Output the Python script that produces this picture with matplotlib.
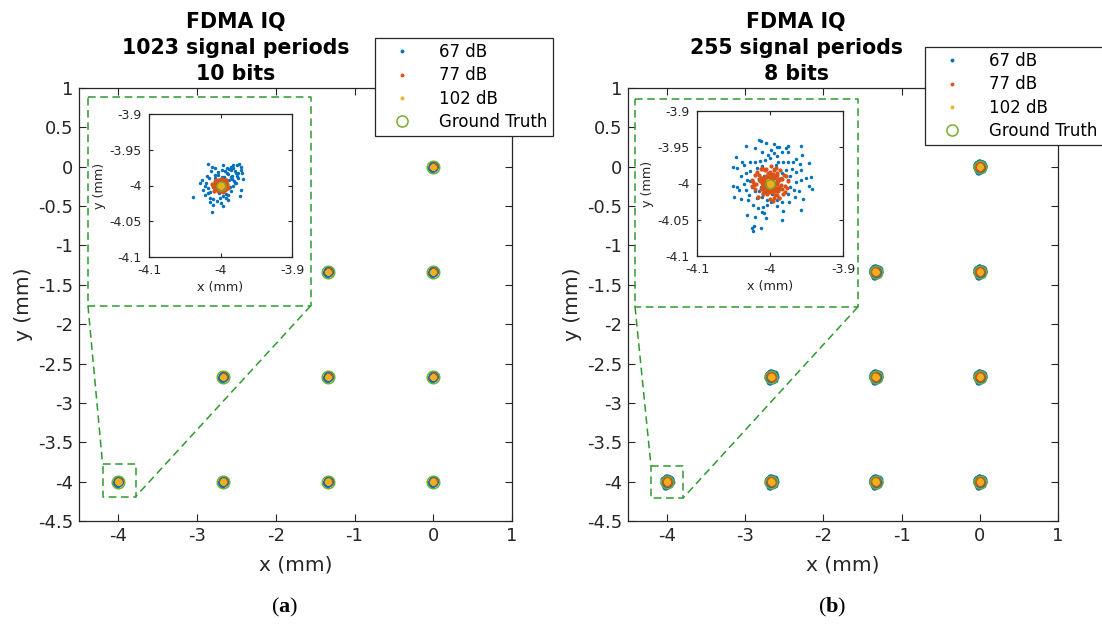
import numpy as np
import matplotlib
matplotlib.use('Agg')
import matplotlib.pyplot as plt
from matplotlib.lines import Line2D

plt.rcParams['font.family'] = 'DejaVu Sans'
plt.rcParams['axes.unicode_minus'] = False
plt.rcParams['mathtext.fontset'] = 'custom'
plt.rcParams['mathtext.rm'] = 'Liberation Serif'
plt.rcParams['mathtext.bf'] = 'Liberation Serif:bold'

# ground truth positions (mm)
gt_x = [0, -1.3333, 0, -2.6667, -1.3333, 0, -4, -2.6667, -1.3333, 0]
gt_y = [0, -1.3333, -1.3333, -2.6667, -2.6667, -2.6667, -4, -4, -4, -4]

# (a) 1023 periods / 10 bits : estimated offsets around each target (um)
a67_dx = [-39, -17, -12, 4, 0, -5, 27, 28, 32, 29,
          28, 18, 23, 14, 9, 2, -7, -12, -26, -29,
          -24, -21, -14, -10, -15, 16, 23, 21, 18, 14,
          11, 7, 25, 9, -3, -19, -20, -17, -8, 5,
          12, 20, -2, -6, 3, 8, -11, -16, 15, 22,
          10, -4, 6, -9, 1, 13, 19, -13, -22, 17,
          26, 11, -1, 7, -7, 4, 24, 30, -18, -10,
          2, 9, 14, -5, 20, 16, -3, 6, -14, 12]
a67_dy = [-16, 30, -37, -29, -24, -22, -14, -6, 9, 22,
          26, 29, 28, 26, 25, 22, 25, 26, 8, 4,
          -6, -13, -17, -27, -23, 13, 13, 4, -1, -8,
          -13, -17, 18, 18, 15, 13, 4, -3, 10, 12,
          8, 20, -10, 5, -15, -5, -2, 10, 22, 17,
          16, 19, 3, -8, 7, -2, 6, 20, 0, 24,
          30, -20, -18, -12, 15, 28, 10, 17, -10, -19,
          12, 2, 12, 0, 4, 9, -6, 20, -9, 23]
a77_dx = [3, -4, 6, -7, 1, 8, -2, -9, 5, 0,
          -5, 7, 2, -3, 9, -8, 4, -1, 6, -6,
          2, -4, 8, -2, 5, -7, 0, 3, -5, 7,
          -1, 4, -8, 6, 1, -3, 9, -6, 2, -2,
          1, -2, 3, -3, 4, -4, 0, 2, -1, 5,
          -5, 3, -2, 1, 6, -6, 0, 4, -3, 2,
          -1, 3, -4, 5, -2, 0, 2, -5, 1, -3,
          4, -1, 6, -4, 3, -6, 0, -2, 5, 1,
          -11, -12, -10, 10, -9, 8]
a77_dy = [5, 2, -3, 6, -6, 1, 8, -2, 4, -7,
          -5, 6, 9, -4, -1, 4, -8, 3, -5, 7,
          1, -8, 5, 7, -2, -5, 3, -9, 2, 8,
          -3, 6, -1, -6, 9, 4, 2, -4, -7, 0,
          2, -1, 0, 3, -2, 4, -4, -3, 5, 1,
          3, -5, -6, 2, 0, -2, 6, 4, -1, -4,
          1, 3, -3, -1, 6, -6, -2, 2, -5, 4,
          5, -4, 3, 0, -6, -1, 1, -3, -2, 6,
          -1, 2, 1, -3, -8, 7]
a102_dx = [1, -1, 2, -2, 0, 1, -1, 2, 0, -2, 1, 0, -1, 2, -1]
a102_dy = [0, 1, -1, 2, -2, 2, -1, 1, 1, -1, -2, 0, 2, 0, 0]

# (b) 255 periods / 8 bits
b67_dx = [-15, -13, -5, 6, 10, 13, 24, 42, -33, -21,
          -46, -38, -27, -21, -14, -7, -3, 9, 16, 25,
          18, 24, 11, 36, 44, 31, 41, 53, -11, 1,
          5, 22, -51, -45, -33, -27, -18, -11, -40, -31,
          -27, -36, -51, -45, -43, -33, -49, -40, -29, -21,
          -15, -11, -4, 1, 10, 17, 26, 34, 40, 33,
          28, 36, 43, 49, 56, 58, 53, 28, 35, 43,
          22, 17, 24, -30, -23, -17, -9, -4, 10, -11,
          -20, -32, -6, 17, 42, -24, -22, -13, -23, -8,
          5, -15, 12, -5, 20, -20, 8, -2, 15, -12,
          30, -25, 3, -18, 25, 0, -35, 45, -8, 18]
b67_dy = [60, 59, 56, 54, 50, 51, 52, 52, 52, 49,
          37, 30, 30, 30, 31, 33, 40, 38, 43, 43,
          30, 30, 30, 34, 39, 29, 27, 28, 44, 46,
          42, 49, 23, 21, 15, 17, 21, 24, 10, 5,
          3, 0, -3, -5, -9, -9, -18, -22, -16, -11,
          -11, -18, -23, -25, -23, -25, -25, -18, -11, -9,
          -5, 2, 5, 7, 9, -7, -4, 11, 16, 18,
          18, 14, 5, -23, -30, -34, -33, -30, -31, -39,
          -46, -43, -47, -50, -37, -62, -59, -62, -65, 10,
          20, 5, -8, -12, -12, 12, 25, 15, 8, -5,
          20, -5, -15, -20, -15, 35, 25, -22, -40, -38]
b77_dx = [-25, -20, -15, -10, -5, 0, 5, 10, 15, 20,
          22, -22, 18, -18, 12, -12, 8, -8, 3, -3,
          -24, 24, -16, 16, -6, 6, -13, 13, -2, 2,
          7, -7, 19, -19, 11, -11, 4, -4, 14, -14,
          -21, 21, -9, 9, 1, -1, 17, -17, 6, -6,
          23, -23, 10, -10, -4, 4, 15, -15, 0, 8,
          0, 3, -3, 6, -6, 9, -9, 12, -12, 2,
          -2, 5, -5, 8, -8, 11, -11, 1, -1, 4,
          -4, 7, -7, 10, -10, 13, -13, 0, 3, -3,
          6, -6, 9, -9, 2, -2, 5, -5, 8, -8,
          1, -1, 4, -4, 7, -7, 0, 11, -11, 3,
          -3, 6, -6, 2, -2, 10, -10, 5, -5, 0]
b77_dy = [5, -8, 12, -15, 20, -22, 18, -10, 6, -3,
          10, -2, -14, 16, -20, 8, 22, -6, -12, 14,
          -4, 4, -18, -8, 2, 10, 20, -20, -5, 6,
          -16, 18, 12, 0, -8, 22, -24, -14, 18, 4,
          12, -12, -2, 15, 24, -10, 6, -18, -20, 8,
          -6, 2, -16, 20, -4, 12, -2, 6, 16, -8,
          2, -4, 6, -8, 10, -1, 3, -5, 7, -9,
          11, -2, 4, -6, 8, -10, 1, -3, 5, -7,
          9, -11, 0, 2, -4, 6, -8, 10, -12, 12,
          1, -2, 3, -4, 5, -6, 7, -8, 9, -10,
          11, -12, 13, 0, -1, 2, -3, 4, -5, 6,
          -7, 8, -9, 10, -11, 12, -13, 0, -3, 4]
b102_dx = [2, -2, 3, -3, 0, 1, -1, 3, 0, -2, 2, 0, -3, 1, -1]
b102_dy = [0, 2, -1, 3, -3, 2, -2, 1, 2, -1, -2, 0, 3, -1, 1]

labels = ['67 dB', '77 dB', '102 dB', 'Ground Truth']
C_BLUE, C_ORANGE, C_YELLOW, C_GREEN = '#0072BD', '#D95319', '#EDB120', '#77AC30'
ZOOM_GREEN = '#2E9A2E'
AXC = '#262626'

W, H = 1102, 626
fig = plt.figure(figsize=(W / 100, H / 100), dpi=100)


def px_axes(x0, y0, x1, y1):
    return fig.add_axes([x0 / W, 1 - y1 / H, (x1 - x0) / W, (y1 - y0) / H])


def cloud(dx, dy):
    X = (np.array(gt_x)[:, None] + np.array(dx)[None, :] / 1000).ravel()
    Y = (np.array(gt_y)[:, None] + np.array(dy)[None, :] / 1000).ravel()
    return X, Y


def draw_points(ax, series, sizes, circ_ms, circ_lw):
    for (dx, dy), c, ms in zip(series, [C_BLUE, C_ORANGE, C_YELLOW], sizes):
        X, Y = cloud(dx, dy)
        ax.plot(X, Y, 'o', ms=ms, color=c, mec='none')
    ax.plot(gt_x, gt_y, 'o', ms=circ_ms, mfc='none', mec=C_GREEN, mew=circ_lw)


def style(ax, size, length, pad):
    ax.tick_params(direction='in', length=length, top=True, right=True,
                   width=0.8, colors=AXC, labelsize=size, pad=pad)
    for s in ax.spines.values():
        s.set_color(AXC)
        s.set_linewidth(0.9)


def panel(main_box, inset_box, series, title, tcx, big, small, leg_xy, cap, cap_x):
    ax = px_axes(*main_box)
    draw_points(ax, series, (4.2, 4.2, 4.2), 9, 1.1)
    ax.set_xlim(-4.5, 1)
    ax.set_ylim(-4.5, 1)
    ax.set_xticks(np.arange(-4, 1.5, 1))
    ax.set_yticks(np.arange(-4.5, 1.25, 0.5))
    ax.set_yticklabels(['%g' % v for v in np.arange(-4.5, 1.25, 0.5)])
    style(ax, 13, 5, 4)
    ax.set_xlabel('x (mm)', fontsize=14.5, color=AXC, labelpad=8)
    ax.set_ylabel('y (mm)', fontsize=14.5, color=AXC, labelpad=4)

    # zoom box, zoom source and connectors
    bx0, bx1, by0, by1 = big
    sx0, sx1, sy0, sy1 = small
    kw = dict(color=ZOOM_GREEN, lw=1.1, ls=(0, (5, 3)))
    ax.plot([bx0, bx1, bx1, bx0, bx0], [by0, by0, by1, by1, by0], **kw)
    ax.plot([sx0, sx1, sx1, sx0, sx0], [sy0, sy0, sy1, sy1, sy0], **kw)
    ax.plot([bx0, sx0], [by1, sy0], **kw)
    ax.plot([bx1, sx1], [by1, sy1], **kw)

    ins = px_axes(*inset_box)
    draw_points(ins, series, (2.5, 3.0, 3.2), 6.5, 1.0)
    ins.set_xlim(-4.1, -3.9)
    ins.set_ylim(-4.1, -3.9)
    ins.set_xticks([-4.1, -4, -3.9])
    ins.set_xticklabels(['-4.1', '-4', '-3.9'])
    ins.set_yticks([-4.1, -4.05, -4, -3.95, -3.9])
    ins.set_yticklabels(['-4.1', '-4.05', '-4', '-3.95', '-3.9'])
    style(ins, 9, 3, 5)
    ins.set_xlabel('x (mm)', fontsize=9.2, color=AXC, labelpad=3)
    ins.set_ylabel('y (mm)', fontsize=9.2, color=AXC, labelpad=3)

    fig.text(tcx / W, 1 - 48 / H, title, ha='center', va='center',
             fontsize=14.8, fontweight='bold', linespacing=1.38, color='black')

    handles = [Line2D([], [], ls='none', marker='o', ms=2.8, mec='none', color=c)
               for c in [C_BLUE, C_ORANGE, C_YELLOW]]
    handles.append(Line2D([], [], ls='none', marker='o', ms=8, mfc='none',
                          mec=C_GREEN, mew=1.1))
    leg = fig.legend(handles, labels, loc='upper left',
                     bbox_to_anchor=(leg_xy[0] / W, 1 - leg_xy[1] / H),
                     fontsize=12, fancybox=False, framealpha=1, edgecolor=AXC,
                     borderpad=0.3, labelspacing=0.32, handlelength=2.6,
                     handletextpad=0.95, borderaxespad=0)
    leg.get_frame().set_linewidth(0.9)

    fig.text(cap_x / W, 1 - 607 / H, r'($\mathbf{%s}$)' % cap,
             ha='center', va='center', fontsize=16, family='Liberation Serif')


panel((79, 88, 512, 521), (149, 114, 292, 257),
      [(a67_dx, a67_dy), (a77_dx, a77_dy), (a102_dx, a102_dy)],
      'FDMA IQ\n1023 signal periods\n10 bits', 236,
      (-4.386, -1.556, 0.886, -1.766), (-4.2, -3.78, -3.78, -4.19),
      (375, 38), 'a', 285)
panel((628, 88, 1058, 521), (697, 111, 843, 256),
      [(b67_dx, b67_dy), (b77_dx, b77_dy), (b102_dx, b102_dy)],
      'FDMA IQ\n255 signal periods\n8 bits', 796,
      (-4.41, -1.559, 0.86, -1.78), (-4.206, -3.797, -3.80, -4.21),
      (925, 47), 'b', 832)

fig.savefig('out.png', dpi=100)
